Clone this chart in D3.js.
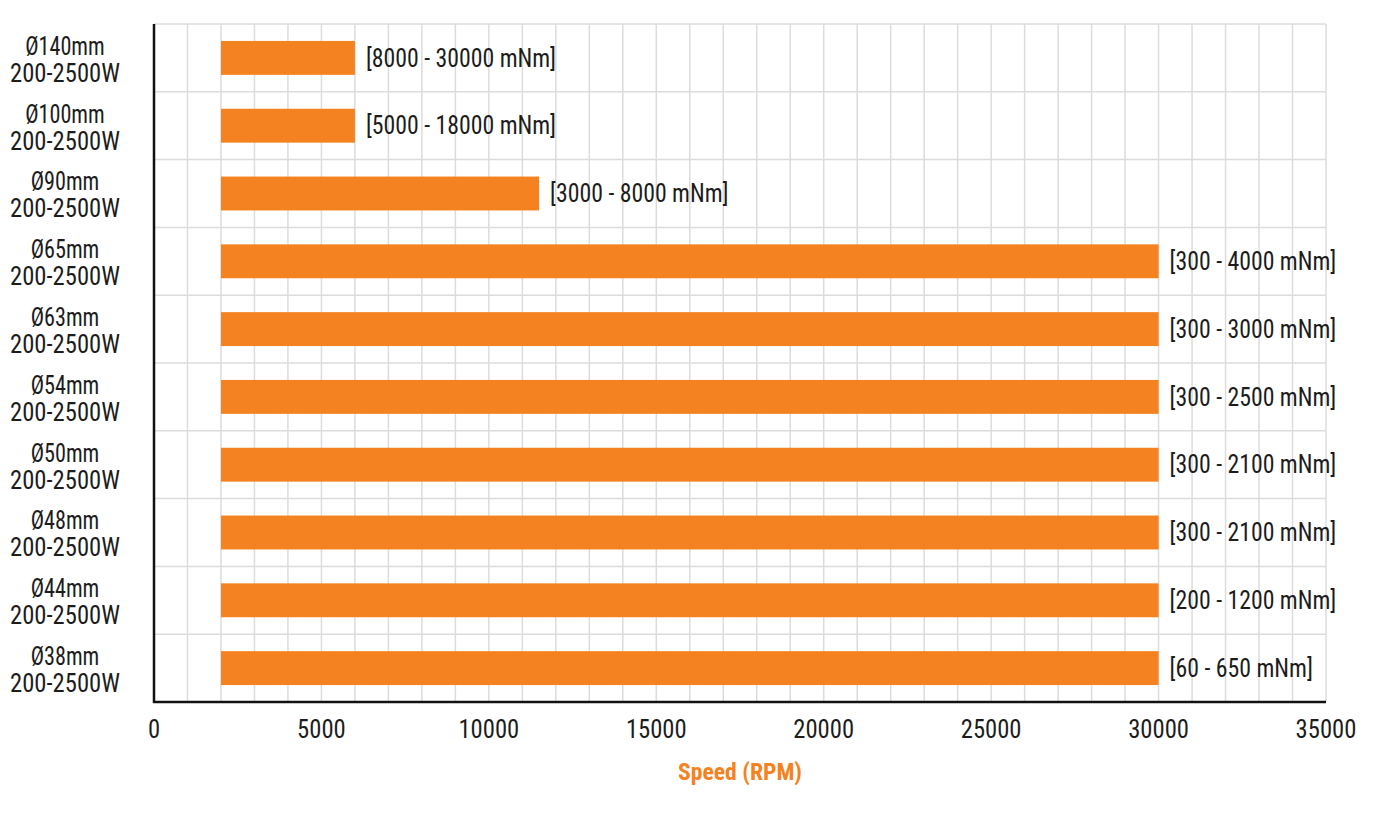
<!DOCTYPE html>
<html>
<head>
<meta charset="utf-8">
<script src="https://cdn.jsdelivr.net/npm/d3@7"></script>
<style>
  html, body { margin: 0; padding: 0; background: #fff; }
  svg text { font-family: "Roboto Condensed", "Roboto", "Liberation Sans", sans-serif; font-stretch: condensed; }
</style>
</head>
<body>
<svg id="chart" width="1400" height="821"></svg>
<script>
const motors = ["Ø140mm", "Ø100mm", "Ø90mm", "Ø65mm", "Ø63mm", "Ø54mm", "Ø50mm", "Ø48mm", "Ø44mm", "Ø38mm"];
const power = ["200-2500W", "200-2500W", "200-2500W", "200-2500W", "200-2500W", "200-2500W", "200-2500W", "200-2500W", "200-2500W", "200-2500W"];
const speedMin = [2000, 2000, 2000, 2000, 2000, 2000, 2000, 2000, 2000, 2000];
const speedMax = [6000, 6000, 11500, 30000, 30000, 30000, 30000, 30000, 30000, 30000];
const torque = ["[8000 - 30000 mNm]", "[5000 - 18000 mNm]", "[3000 - 8000 mNm]", "[300 - 4000 mNm]", "[300 - 3000 mNm]", "[300 - 2500 mNm]", "[300 - 2100 mNm]", "[300 - 2100 mNm]", "[200 - 1200 mNm]", "[60 - 650 mNm]"];
const xTicks = [0, 5000, 10000, 15000, 20000, 25000, 30000, 35000];
const xTitle = "Speed (RPM)";

const data = motors.map((m, i) => ({ m, p: power[i], a: speedMin[i], b: speedMax[i], t: torque[i] }));

const svg = d3.select("#chart");
const margin = { left: 154, right: 74, top: 24, bottom: 119 };
const W = 1400, H = 821;
const x = d3.scaleLinear().domain([0, 35000]).range([margin.left, W - margin.right]);
const y = d3.scaleBand().domain(motors).range([margin.top, H - margin.bottom]).paddingInner(0).paddingOuter(0);
const orange = "#F58220";
const ink = "#1c1c1c";
const FS = 25;

// vertical grid every 1000
const grid = svg.append("g");
grid.selectAll("line.v").data(d3.range(1000, 35001, 1000)).join("line")
  .attr("x1", d => x(d)).attr("x2", d => x(d))
  .attr("y1", y.range()[0]).attr("y2", y.range()[1])
  .attr("stroke", "#dcdcdc").attr("stroke-width", 1.5);
// horizontal grid at band edges
grid.selectAll("line.h").data(motors.map(m => y(m))).join("line")
  .attr("x1", x(0)).attr("x2", x(35000))
  .attr("y1", d => d).attr("y2", d => d)
  .attr("stroke", "#dcdcdc").attr("stroke-width", 1.5);

// bars
const bh = y.bandwidth() * 0.5;
svg.append("g").selectAll("rect").data(data).join("rect")
  .attr("x", d => x(d.a))
  .attr("width", d => x(d.b) - x(d.a))
  .attr("y", d => y(d.m) + (y.bandwidth() - bh) / 2)
  .attr("height", bh)
  .attr("fill", orange);

// torque labels
svg.append("g").selectAll("text").data(data).join("text")
  .attr("class", "sq").attr("data-f", 0.965)
  .attr("x", d => x(d.b) + 11)
  .attr("y", d => y(d.m) + y.bandwidth() / 2)
  .attr("dy", "0.35em")
  .attr("font-size", FS)
  .attr("fill", ink)
  .text(d => d.t);

// y labels (two lines)
const yg = svg.append("g");
yg.selectAll("text.l1").data(data).join("text")
  .attr("class", "sq l1").attr("data-f", 0.9)
  .attr("x", 65).attr("y", d => y(d.m) + y.bandwidth() / 2 - 3)
  .attr("text-anchor", "middle").attr("font-size", FS).attr("fill", ink)
  .text(d => d.m);
yg.selectAll("text.l2").data(data).join("text")
  .attr("class", "sq l2").attr("data-f", 1)
  .attr("x", 65).attr("y", d => y(d.m) + y.bandwidth() / 2 + 24)
  .attr("text-anchor", "middle").attr("font-size", FS).attr("fill", ink)
  .text(d => d.p);

// axis lines
svg.append("line").attr("x1", x(0)).attr("x2", x(0)).attr("y1", y.range()[0]).attr("y2", y.range()[1] + 1)
  .attr("stroke", "#111").attr("stroke-width", 2.5);
svg.append("line").attr("x1", x(0) - 1).attr("x2", x(35000)).attr("y1", y.range()[1]).attr("y2", y.range()[1])
  .attr("stroke", "#111").attr("stroke-width", 2.5);

// x ticks labels
svg.append("g").selectAll("text").data(xTicks).join("text")
  .attr("class", "sq").attr("data-f", 1)
  .attr("x", d => x(d)).attr("y", 738)
  .attr("text-anchor", "middle")
  .attr("font-size", FS)
  .attr("fill", ink)
  .text(d => d);

// x title
svg.append("text")
  .attr("class", "sq").attr("data-f", 1)
  .attr("x", (x(0) + x(35000)) / 2).attr("y", 780)
  .attr("text-anchor", "middle")
  .attr("font-size", FS - 1).attr("font-weight", "bold")
  .attr("fill", orange)
  .text(xTitle);

// condense text horizontally to mimic a narrow face: target width of "200-2500W" ≈ 110px
const probe = svg.append("text").attr("class", "sq").attr("font-size", FS).text("200-2500W");
const measured = probe.node().getComputedTextLength();
probe.remove();
const k = Math.min(1, 110 / measured);
svg.selectAll("text.sq").each(function () {
  const ax = +this.getAttribute("x");
  const f = +(this.getAttribute("data-f") || 1);
  this.setAttribute("transform", `translate(${ax},0) scale(${k * f},1) translate(${-ax},0)`);
});
</script>
</body>
</html>
